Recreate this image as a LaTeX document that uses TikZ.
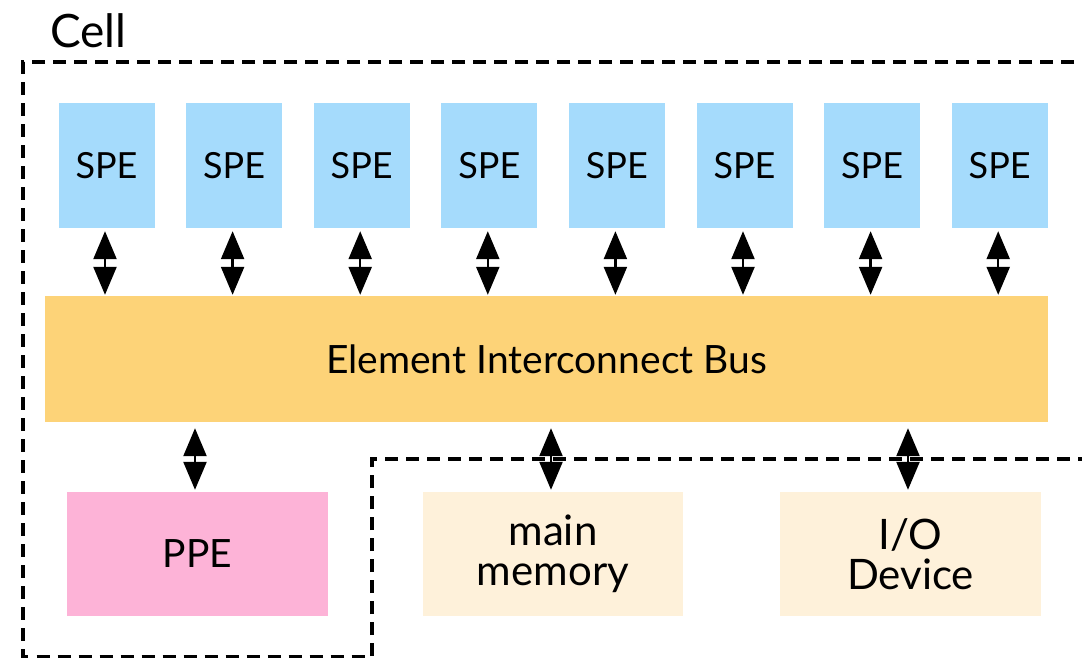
\documentclass[tikz,border=0pt]{standalone}
\usepackage{fontspec}
\setmainfont{Lato}
\usetikzlibrary{arrows.meta}
\definecolor{speblue}{HTML}{A5DBFC}
\definecolor{busorange}{HTML}{FDD378}
\definecolor{ppepink}{HTML}{FDB3D7}
\definecolor{memcream}{HTML}{FEF1DA}
\begin{document}
\begin{tikzpicture}[x=1pt,y=-1pt,
  blk/.style={inner sep=0pt, align=center, draw=none},
  spebox/.style={blk, fill=speblue, minimum width=96pt, minimum height=125pt, font=\fontsize{36}{42}\selectfont},
  busbox/.style={blk, fill=busorange, minimum width=1003pt, minimum height=126pt, font=\fontsize{39}{44}\selectfont},
  lowbox/.style={blk, minimum width=261pt, minimum height=124pt, font=\fontsize{39}{42}\selectfont},
  twoline/.style={font=\fontsize{42}{43}\selectfont},
  link/.style={line width=2.4pt, {Triangle[width=23pt,length=28pt]}-{Triangle[width=23pt,length=28pt]}},
  celldash/.style={line width=3.2pt, dash pattern=on 13pt off 8pt},
]
\useasboundingbox (0,0) rectangle (1082,657);
\clip (0,0) rectangle (1082,657);
\fill[white] (0,0) rectangle (1082,657);

\foreach \i in {1,...,8} {
  \node[spebox] (s\i) at ({106.5+127.6*(\i-1)},165.5) {SPE};
}
\node[busbox] (bus) at (546.5,359) {Element Interconnect Bus};
\node[lowbox, fill=ppepink] (ppe) at (197.5,554) {PPE};
\node[lowbox, twoline, fill=memcream, minimum width=260pt] (mem) at (553,554) {\raisebox{-3pt}{main}\\memory};
\node[lowbox, twoline, fill=memcream] (io) at (910.5,554) {\raisebox{-3pt}{I/O}\\Device};

\foreach \i in {1,...,8} {
  \draw[link, shorten <=3pt, shorten >=1pt] ([xshift=-1.5pt]s\i.south) -- ([xshift=-1.5pt]s\i.south |- bus.north);
}
\draw[link, shorten <=6pt, shorten >=2pt] ([xshift=-2.5pt]bus.south -| ppe.north) -- ([xshift=-2.5pt]ppe.north);
\draw[link, shorten <=6pt, shorten >=2pt] ([xshift=-2pt]bus.south -| mem.north) -- ([xshift=-2pt]mem.north);
\draw[link, shorten <=6pt, shorten >=2pt] ([xshift=-2.5pt]bus.south -| io.north) -- ([xshift=-2.5pt]io.north);

\coordinate (ctr) at (1095,62);
\coordinate (cbl) at (23,656.5);
\coordinate (cin) at (372,459);
\coordinate (cir) at (1095,459);
\draw[celldash] (ctr) -| (cbl) -| (cin) -- (cir);
\node[anchor=base west, inner sep=0pt, font=\fontsize{46}{52}\selectfont] (cell) at (50,47) {Cell};
\end{tikzpicture}
\end{document}
